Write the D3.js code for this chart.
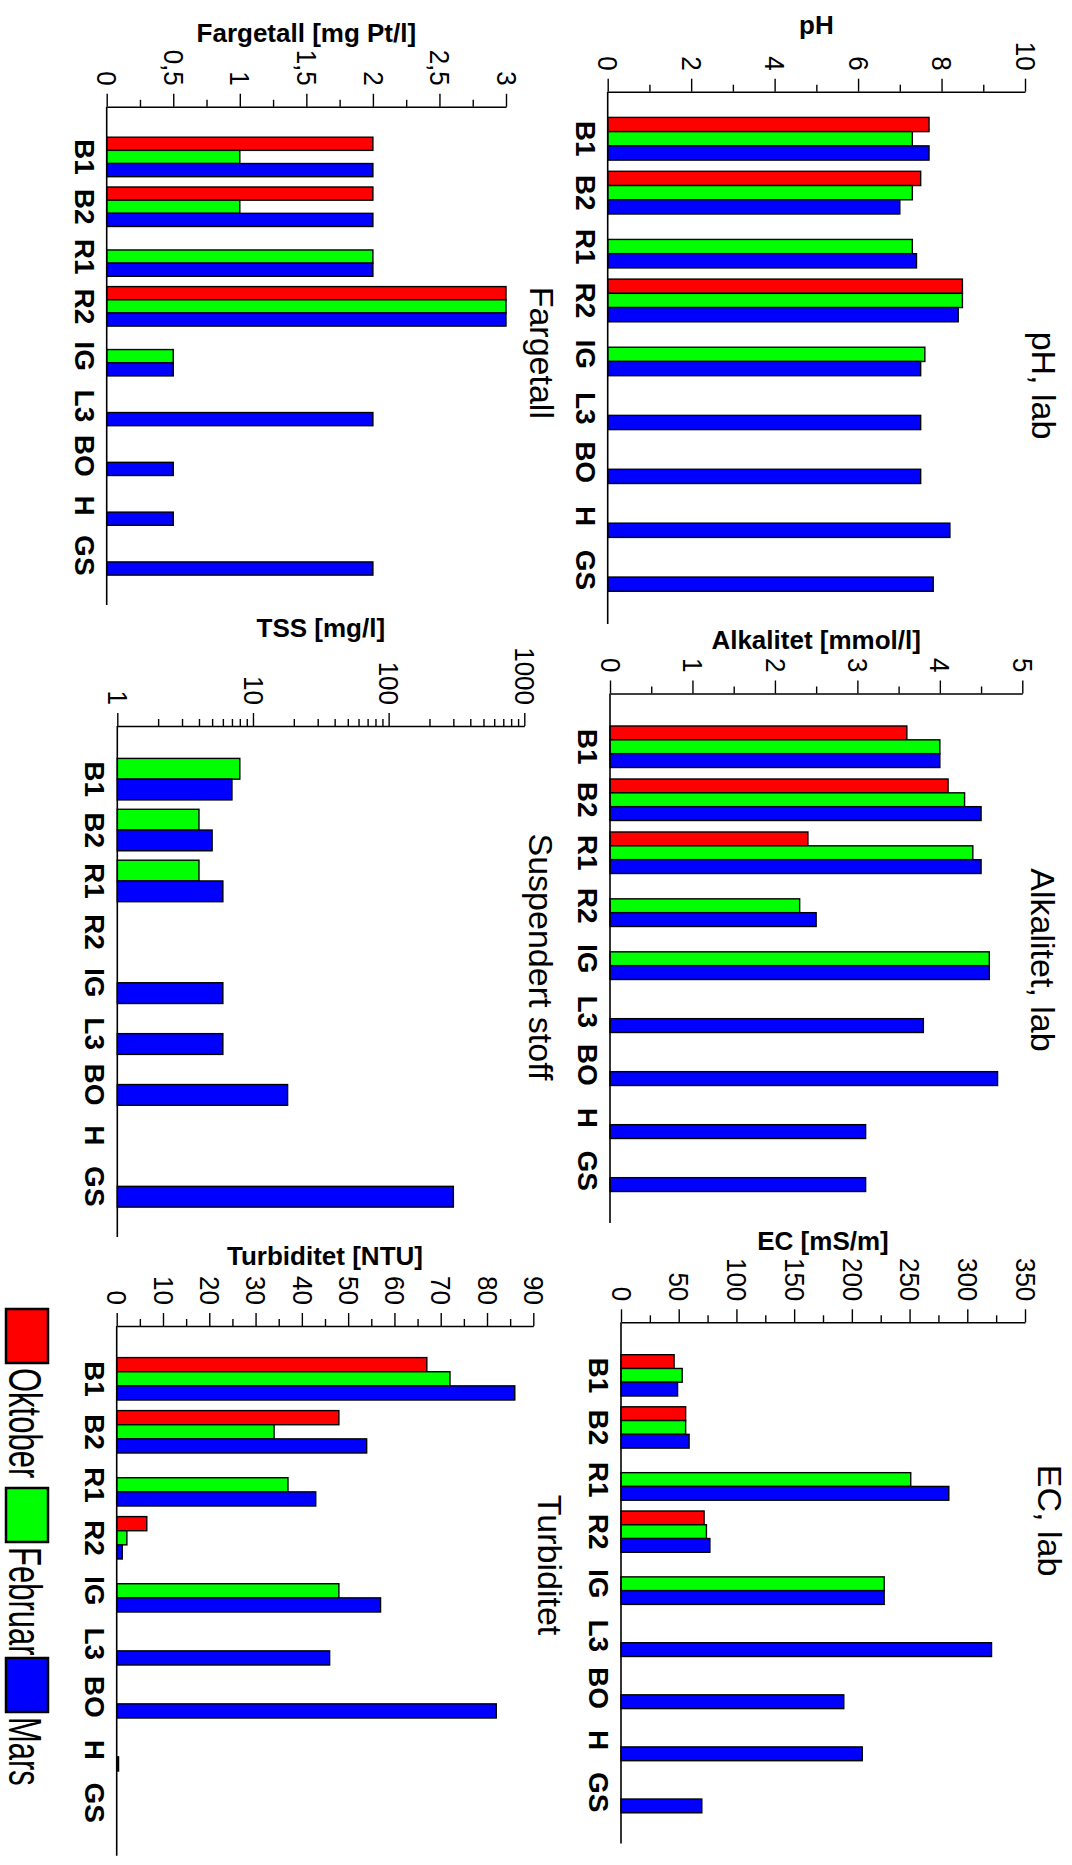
<!DOCTYPE html>
<html>
<head>
<meta charset="utf-8">
<script src="https://cdn.jsdelivr.net/npm/d3@7"></script>
<style>
  body { margin: 0; background: #fff; }
  svg { display: block; }
  text { font-family: "Liberation Sans", Arial, Helvetica, sans-serif; fill: #000; }
</style>
</head>
<body>
<svg id="chart" width="1072" height="1865"></svg>
<script>
// Sampling sites and sampling rounds
const categories = ["B1", "B2", "R1", "R2", "IG", "L3", "BO", "H", "GS"];
const seriesNames = ["Oktober", "Februar", "Mars"];
const seriesColors = ["#ff0000", "#00ff00", "#0000ff"];

// pH, lab
const phOktober = [7.7, 7.5, null, 8.5, null, null, null, null, null];
const phFebruar = [7.3, 7.3, 7.3, 8.5, 7.6, null, null, null, null];
const phMars    = [7.7, 7.0, 7.4, 8.4, 7.5, 7.5, 7.5, 8.2, 7.8];

// Alkalitet, lab [mmol/l]
const alkOktober = [3.6, 4.1, 2.4, null, null, null, null, null, null];
const alkFebruar = [4.0, 4.3, 4.4, 2.3, 4.6, null, null, null, null];
const alkMars    = [4.0, 4.5, 4.5, 2.5, 4.6, 3.8, 4.7, 3.1, 3.1];

// EC, lab [mS/m]
const ecOktober = [46, 56, 0, 72, 0, 0, 0, 0, 0];
const ecFebruar = [53, 56, 251, 74, 228, null, null, null, null];
const ecMars    = [49, 59, 284, 77, 228, 321, 193, 209, 70];

// Fargetall [mg Pt/l]
const fargOktober = [2, 2, null, 3, null, null, null, null, null];
const fargFebruar = [1, 1, 2, 3, 0.5, null, null, null, null];
const fargMars    = [2, 2, 2, 3, 0.5, 2, 0.5, 0.5, 2];

// Suspendert stoff, TSS [mg/l]
const tssFebruar = [8, 4, 4, null, null, null, null, null, null];
const tssMars    = [7, 5, 6, null, 6, 6, 18, null, 300];

// Turbiditet [NTU]
const turbOktober = [67, 48, null, 6.5, null, null, null, null, null];
const turbFebruar = [72, 34, 37, 2.2, 48, null, null, null, null];
const turbMars    = [86, 54, 43, 1.2, 57, 46, 82, 0.4, null];

// Tick values
const phTicks = [0, 2, 4, 6, 8, 10];
const alkTicks = [0, 1, 2, 3, 4, 5];
const ecTicks = [0, 50, 100, 150, 200, 250, 300, 350];
const fargTicks = [0, 0.5, 1, 1.5, 2, 2.5, 3];
const tssTicks = [1, 10, 100, 1000];
const turbTicks = [0, 10, 20, 30, 40, 50, 60, 70, 80, 90];

const commaFormat = v => String(v).replace(".", ",");
const intFormat = d3.format("d");
const midpoints = t => t.slice(1).map((v, i) => (v + t[i]) / 2);
const logMinor = t => t.slice(0, -1).flatMap(d => d3.range(2, 10).map(k => k * d));

const panels = [
  { title: "pH, lab", axisTitle: "pH", log: false, ticks: phTicks, minor: midpoints(phTicks), fmt: intFormat,
    series: [[0, phOktober], [1, phFebruar], [2, phMars]],
    box: { x0: 607.7, x1: 1025, top: 91.7, bottom: 624, bandStart: 117.4, step: 53.9, group: 42.7 },
    axisTitleY: 33.6, titleX: 1032, titleY: 385.5 },
  { title: "Alkalitet, lab", axisTitle: "Alkalitet [mmol/l]", log: false, ticks: alkTicks, minor: midpoints(alkTicks), fmt: intFormat,
    series: [[0, alkOktober], [1, alkFebruar], [2, alkMars]],
    box: { x0: 610, x1: 1022.3, top: 693.5, bottom: 1223, bandStart: 726, step: 53, group: 41.5 },
    axisTitleY: 649.3, titleX: 1031, titleY: 960 },
  { title: "EC, lab", axisTitle: "EC [mS/m]", log: false, ticks: ecTicks, minor: midpoints(ecTicks), fmt: intFormat,
    series: [[0, ecOktober], [1, ecFebruar], [2, ecMars]],
    box: { x0: 621, x1: 1025, top: 1322.3, bottom: 1843.6, bandStart: 1354.7, step: 52.1, group: 41.3 },
    axisTitleY: 1250, titleX: 1037.5, titleY: 1520.6 },
  { title: "Fargetall", axisTitle: "Fargetall [mg Pt/l]", log: false, ticks: fargTicks, minor: midpoints(fargTicks), fmt: commaFormat,
    series: [[0, fargOktober], [1, fargFebruar], [2, fargMars]],
    box: { x0: 106.7, x1: 506, top: 106.8, bottom: 605, bandStart: 137.2, step: 49.8, group: 39.5 },
    axisTitleY: 41.5, titleX: 530, titleY: 352.8 },
  { title: "Suspendert stoff", axisTitle: "TSS [mg/l]", log: true, ticks: tssTicks, minor: logMinor(tssTicks), fmt: intFormat,
    series: [[1, tssFebruar], [2, tssMars]],
    box: { x0: 117.3, x1: 524.3, top: 726, bottom: 1237, bandStart: 758.4, step: 50.9, group: 41.5 },
    axisTitleY: 636.5, titleX: 528.5, titleY: 957 },
  { title: "Turbiditet", axisTitle: "Turbiditet [NTU]", log: false, ticks: turbTicks, minor: midpoints(turbTicks), fmt: intFormat,
    series: [[0, turbOktober], [1, turbFebruar], [2, turbMars]],
    box: { x0: 116.7, x1: 533.3, top: 1326, bottom: 1855.7, bandStart: 1357.6, step: 53, group: 42.4 },
    axisTitleY: 1265, titleX: 538, titleY: 1565 }
];

const svg = d3.select("#chart");

// Text that reads top-to-bottom (turned a quarter clockwise), glyph height stretched by s
function turned(g, x, y, str, size, weight, anchor, s) {
  return g.append("text")
    .attr("transform", `translate(${x},${y}) rotate(90) scale(1,${s})`)
    .attr("text-anchor", anchor)
    .attr("font-size", size)
    .attr("font-weight", weight)
    .text(str);
}

panels.forEach(p => {
  const b = p.box;
  const g = svg.append("g");
  const lo = p.ticks[0], hi = p.ticks[p.ticks.length - 1];
  const x = (p.log ? d3.scaleLog() : d3.scaleLinear()).domain([lo, hi]).range([b.x0, b.x1]);

  const y = d3.scaleBand().domain(categories)
    .range([b.bandStart, b.bandStart + categories.length * b.step - (b.step - b.group)])
    .paddingInner((b.step - b.group) / b.step).paddingOuter(0);
  const sub = d3.scaleBand().domain(p.series.map(s => s[0])).range([0, y.bandwidth()]);

  // bars
  p.series.forEach(([si, vals]) => {
    g.append("g").selectAll("rect")
      .data(categories.map((c, i) => ({ c, v: vals[i] })).filter(d => d.v !== null))
      .join("rect")
      .attr("x", b.x0)
      .attr("y", d => y(d.c) + sub(si))
      .attr("width", d => Math.max(0, x(d.v) - b.x0))
      .attr("height", sub.bandwidth())
      .attr("fill", seriesColors[si])
      .attr("stroke", "#000")
      .attr("stroke-width", 1.4);
  });

  // value axis along the top
  const axisG = g.append("g").attr("transform", `translate(0,${b.top})`);
  axisG.append("g")
    .call(d3.axisTop(x).tickValues(p.minor).tickSize(7).tickSizeOuter(0).tickFormat(""))
    .call(a => a.select(".domain").remove())
    .call(a => a.selectAll("line").attr("stroke-width", 1.4));
  const major = axisG.append("g")
    .call(d3.axisTop(x).tickValues(p.ticks).tickSize(13).tickSizeOuter(0).tickFormat(p.fmt));
  major.select(".domain").attr("stroke-width", 1.6);
  major.selectAll("line").attr("stroke-width", 1.4);
  major.selectAll("text")
    .attr("x", null).attr("y", null).attr("dy", "0.35em")
    .attr("transform", "translate(0,-21) rotate(90) scale(1,1.08)")
    .attr("text-anchor", "end")
    .attr("font-size", 26)
    .attr("font-family", null)
    .attr("fill", "#000");

  // category axis
  g.append("line")
    .attr("x1", b.x0).attr("x2", b.x0)
    .attr("y1", b.top).attr("y2", b.bottom)
    .attr("stroke", "#000").attr("stroke-width", 1.6);

  categories.forEach(c => {
    turned(g, b.x0 - 32, y(c) + y.bandwidth() / 2, c, 28, "bold", "middle", 1.0);
  });

  // axis title
  g.append("text")
    .attr("x", (b.x0 + b.x1) / 2).attr("y", p.axisTitleY)
    .attr("text-anchor", "middle")
    .attr("font-size", 26).attr("font-weight", "bold")
    .text(p.axisTitle);

  // panel title
  turned(g, p.titleX, p.titleY, p.title, 34, "normal", "middle", 1.0);
});

// legend
const legendStarts = [1309, 1488, 1658];
const legend = svg.append("g");
seriesNames.forEach((name, i) => {
  legend.append("rect")
    .attr("x", 6).attr("y", legendStarts[i])
    .attr("width", 42).attr("height", 54)
    .attr("fill", seriesColors[i])
    .attr("stroke", "#000").attr("stroke-width", 2.5);
  turned(legend, 9, legendStarts[i] + 59, name, 31, "normal", "start", 1.5);
});
</script>
</body>
</html>
